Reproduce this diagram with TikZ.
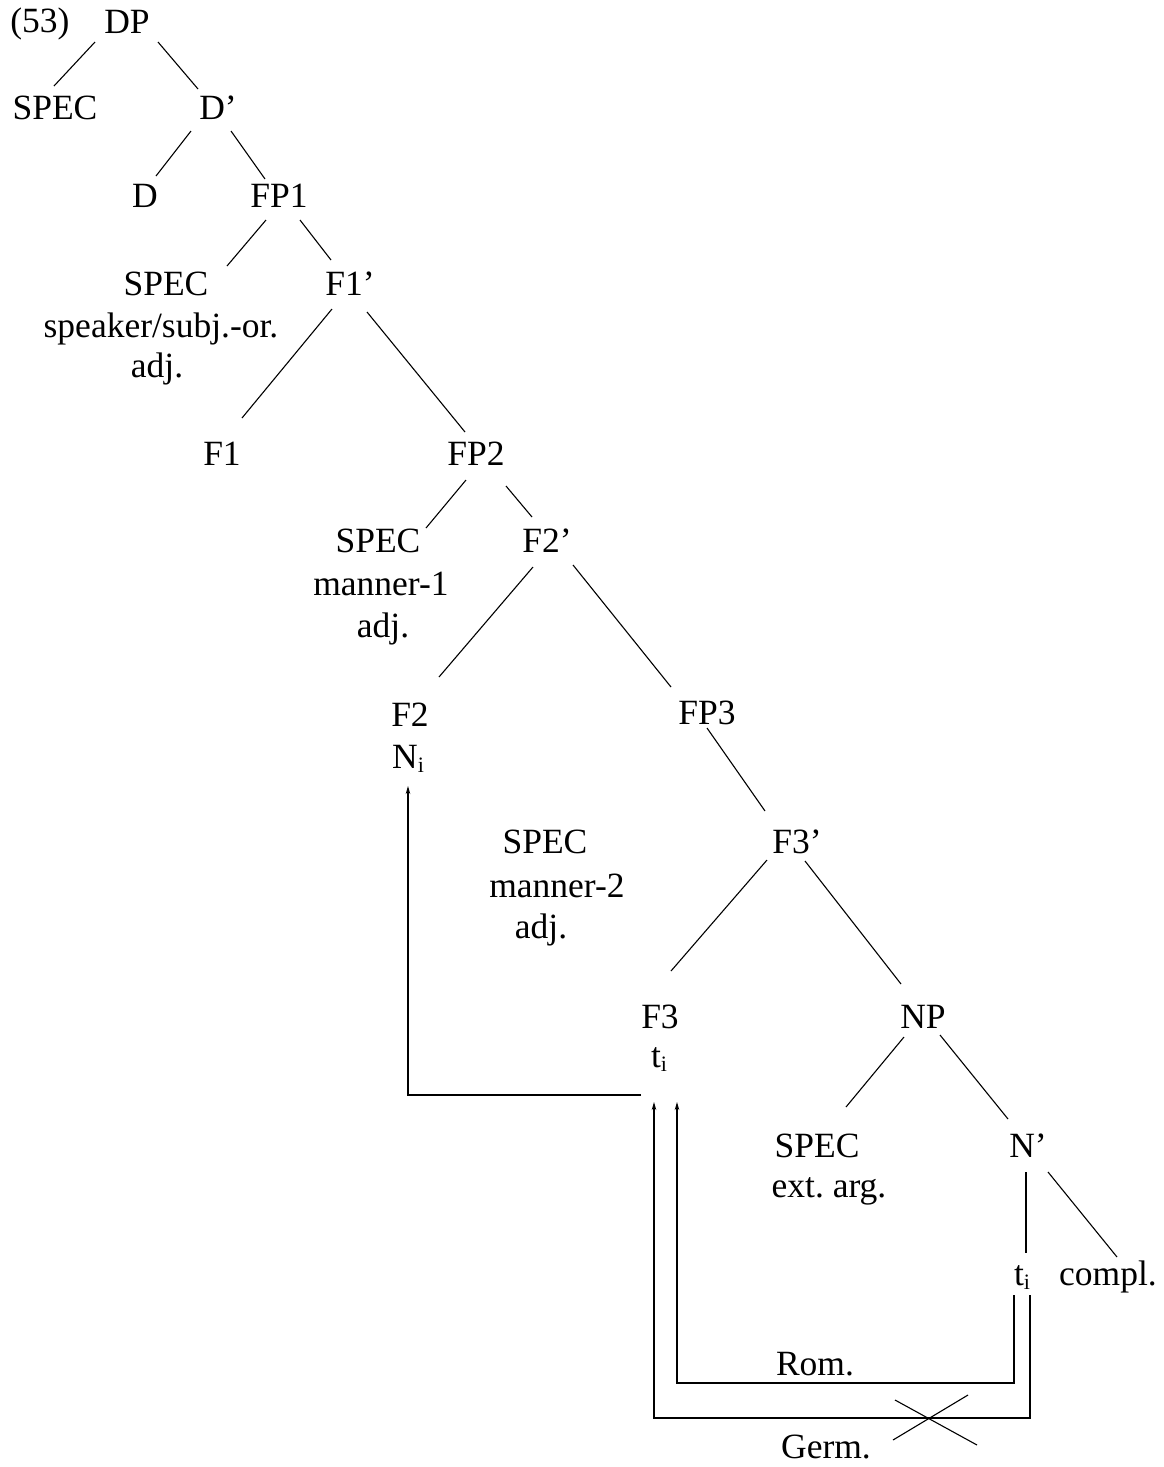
\documentclass[tikz,border=0pt]{standalone}
\usepackage{fontspec}
\setmainfont{Liberation Serif}
\usetikzlibrary{arrows.meta}
\frenchspacing
\newcommand{\sbi}{\raisebox{-0.3ex}{\fontsize{22}{22}\selectfont i}}
\begin{document}
\begin{tikzpicture}[x=1pt,y=-1pt,
  tx/.style={font=\fontsize{35.5}{40}\selectfont\frenchspacing, inner sep=0pt, anchor=base},
  br/.style={line width=1.1pt},
  arr/.style={line width=1.1pt, -{Stealth[length=8pt,width=4.5pt]}}]
\fill[white] (0,0) rectangle (1163,1467);
\useasboundingbox (0,0) rectangle (1163,1467);
% nodes
\node[tx] (ex)  at (40,32)  {(53)};
\node[tx] (dp)  at (127,33) {DP};
\node[tx] (s0)  at (55,119) {SPEC};
\node[tx] (db)  at (218,119) {D’};
\node[tx] (d)   at (145,207) {D};
\node[tx] (fp1) at (279,207) {FP1};
\node[tx] (s1)  at (166,295) {SPEC};
\node[tx] (s1a) at (161,337) {speaker/subj.-or.};
\node[tx] (s1b) at (157,377) {adj.};
\node[tx] (f1b) at (350,295) {F1’};
\node[tx] (f1)  at (222,465) {F1};
\node[tx] (fp2) at (476,465) {FP2};
\node[tx] (s2)  at (378,552) {SPEC};
\node[tx] (s2a) at (381,595) {manner-1};
\node[tx] (s2b) at (383,637) {adj.};
\node[tx] (f2b) at (547,552) {F2’};
\node[tx] (f2)  at (410,726) {F2};
\node[tx] (ni)  at (408,768) {N\sbi};
\node[tx] (fp3) at (707,724) {FP3};
\node[tx] (s3)  at (545,853) {SPEC};
\node[tx] (s3a) at (557,897) {manner-2};
\node[tx] (s3b) at (541,938) {adj.};
\node[tx] (f3b) at (797,853) {F3’};
\node[tx] (f3)  at (660,1028) {F3};
\node[tx] (t3)  at (659,1067) {t\sbi};
\node[tx] (np)  at (923,1028) {NP};
\node[tx] (s4)  at (817,1157) {SPEC};
\node[tx] (s4a) at (829,1197) {ext. arg.};
\node[tx] (nb)  at (1028,1157) {N’};
\node[tx] (t4)  at (1022,1285) {t\sbi};
\node[tx] (cp)  at (1108,1285) {compl.};
\node[tx] (rom) at (815,1375) {Rom.};
\node[tx] (grm) at (826,1458) {Germ.};
% branches
\draw[br] ([shift={(-32,9)}]dp.base) -- ([shift={(-1,-33)}]s0.base);
\draw[br] ([shift={(31,9)}]dp.base) -- ([shift={(-20,-30)}]db.base);
\draw[br] ([shift={(-27,12)}]db.base) -- ([shift={(11,-31)}]d.base);
\draw[br] ([shift={(13,12)}]db.base) -- ([shift={(-14,-28)}]fp1.base);
\draw[br] ([shift={(-13,13)}]fp1.base) -- ([shift={(61,-29)}]s1.base);
\draw[br] ([shift={(21,13)}]fp1.base) -- ([shift={(-19,-35)}]f1b.base);
\draw[br] ([shift={(-18,14)}]f1b.base) -- ([shift={(20,-47)}]f1.base);
\draw[br] ([shift={(17,17)}]f1b.base) -- ([shift={(-11,-33)}]fp2.base);
\draw[br] ([shift={(-10,15)}]fp2.base) -- ([shift={(48,-24)}]s2.base);
\draw[br] ([shift={(30,21)}]fp2.base) -- ([shift={(-15,-35)}]f2b.base);
\draw[br] ([shift={(-14,15)}]f2b.base) -- ([shift={(29,-49)}]f2.base);
\draw[br] ([shift={(26,13)}]f2b.base) -- ([shift={(-36,-37)}]fp3.base);
\draw[br] ([shift={(0,4)}]fp3.base) -- ([shift={(-32,-42)}]f3b.base);
\draw[br] ([shift={(-30,7)}]f3b.base) -- ([shift={(11,-57)}]f3.base);
\draw[br] ([shift={(8,8)}]f3b.base) -- ([shift={(-22,-44)}]np.base);
\draw[br] ([shift={(-19,9)}]np.base) -- ([shift={(29,-50)}]s4.base);
\draw[br] ([shift={(17,7)}]np.base) -- ([shift={(-20,-38)}]nb.base);
\draw[br] ([shift={(-2,15)}]nb.base) -- ([shift={(4,-32)}]t4.base);
\draw[br] ([shift={(20,15)}]nb.base) -- ([shift={(9,-28)}]cp.base);
% movement arrows
\draw[arr] ([shift={(-18,28)}]t3.base) -| ([shift={(0,18)}]ni.base);
\draw[arr] ([shift={(-8,10)}]t4.base) -- ++(0,88) -| ([shift={(18,35)}]t3.base);
\draw[arr] ([shift={(8,10)}]t4.base) -- ++(0,123) -| ([shift={(-5,35)}]t3.base);
% cross
\draw[br] (895,1400) -- (977,1445);
\draw[br] (968,1395) -- (893,1440);
\end{tikzpicture}
\end{document}
